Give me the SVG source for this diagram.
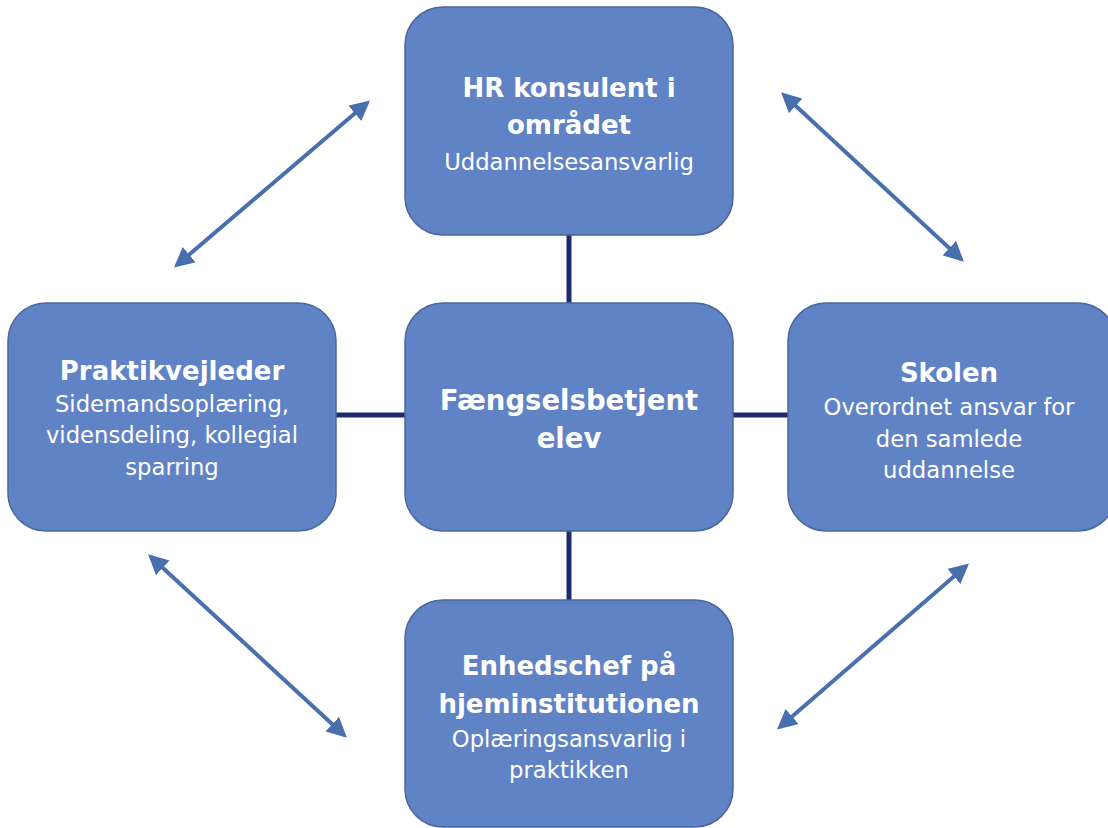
<svg xmlns="http://www.w3.org/2000/svg" width="1108" height="828" viewBox="0 0 1108 828">
<defs>
<style>
.box{fill:#6083C5;stroke:#4A679E;stroke-width:1.5}
.t{font-family:"DejaVu Sans",sans-serif;fill:#FFFFFF;text-anchor:middle}
.h{font-size:26px;font-weight:bold}
.c{font-size:27.5px;font-weight:bold}
.s{font-size:22.7px}
.link{stroke:#1C2B6E;stroke-width:5;fill:none}
.arr{stroke:#4A6FAF;stroke-width:4;fill:none;marker-start:url(#ah);marker-end:url(#ah)}
</style>
<marker id="ah" viewBox="0 0 10 10" refX="8" refY="5" markerWidth="5" markerHeight="5" orient="auto-start-reverse" markerUnits="strokeWidth">
<path d="M0,0 L10,5 L0,10 Z" fill="#4A6FAF"/>
</marker>
</defs>
<rect width="1108" height="828" fill="#FFFFFF"/>
<g id="connectors">
<line class="link" x1="569" y1="235" x2="569" y2="303"/>
<line class="link" x1="569" y1="531" x2="569" y2="600"/>
<line class="link" x1="336" y1="415" x2="405" y2="415"/>
<line class="link" x1="733" y1="415" x2="788" y2="415"/>
<line class="arr" x1="177" y1="265" x2="367" y2="103"/>
<line class="arr" x1="784" y1="95" x2="961" y2="259"/>
<line class="arr" x1="151" y1="557" x2="344" y2="735"/>
<line class="arr" x1="966" y1="566" x2="780" y2="727"/>
</g>
<g id="node-top">
<rect class="box" x="405" y="7" width="328" height="228" rx="38"/>
<text class="t h" x="569" y="97">HR konsulent i</text>
<text class="t h" x="569" y="134">området</text>
<text class="t s" x="569" y="170">Uddannelsesansvarlig</text>
</g>
<g id="node-center">
<rect class="box" x="405" y="303" width="328" height="228" rx="38"/>
<text class="t c" x="569" y="410">Fængselsbetjent</text>
<text class="t c" x="569" y="448">elev</text>
</g>
<g id="node-left">
<rect class="box" x="8" y="303" width="328" height="228" rx="38"/>
<text class="t h" x="172" y="380">Praktikvejleder</text>
<text class="t s" x="172" y="412">Sidemandsoplæring,</text>
<text class="t s" x="172" y="443">vidensdeling, kollegial</text>
<text class="t s" x="172" y="475">sparring</text>
</g>
<g id="node-right">
<rect class="box" x="788" y="303" width="328" height="228" rx="38"/>
<text class="t h" x="949" y="382">Skolen</text>
<text class="t s" x="949" y="415">Overordnet ansvar for</text>
<text class="t s" x="949" y="447">den samlede</text>
<text class="t s" x="949" y="478">uddannelse</text>
</g>
<g id="node-bottom">
<rect class="box" x="405" y="600" width="328" height="227" rx="38"/>
<text class="t h" x="569" y="675">Enhedschef på</text>
<text class="t h" x="569" y="713">hjeminstitutionen</text>
<text class="t s" x="569" y="747">Oplæringsansvarlig i</text>
<text class="t s" x="569" y="778">praktikken</text>
</g>
</svg>
